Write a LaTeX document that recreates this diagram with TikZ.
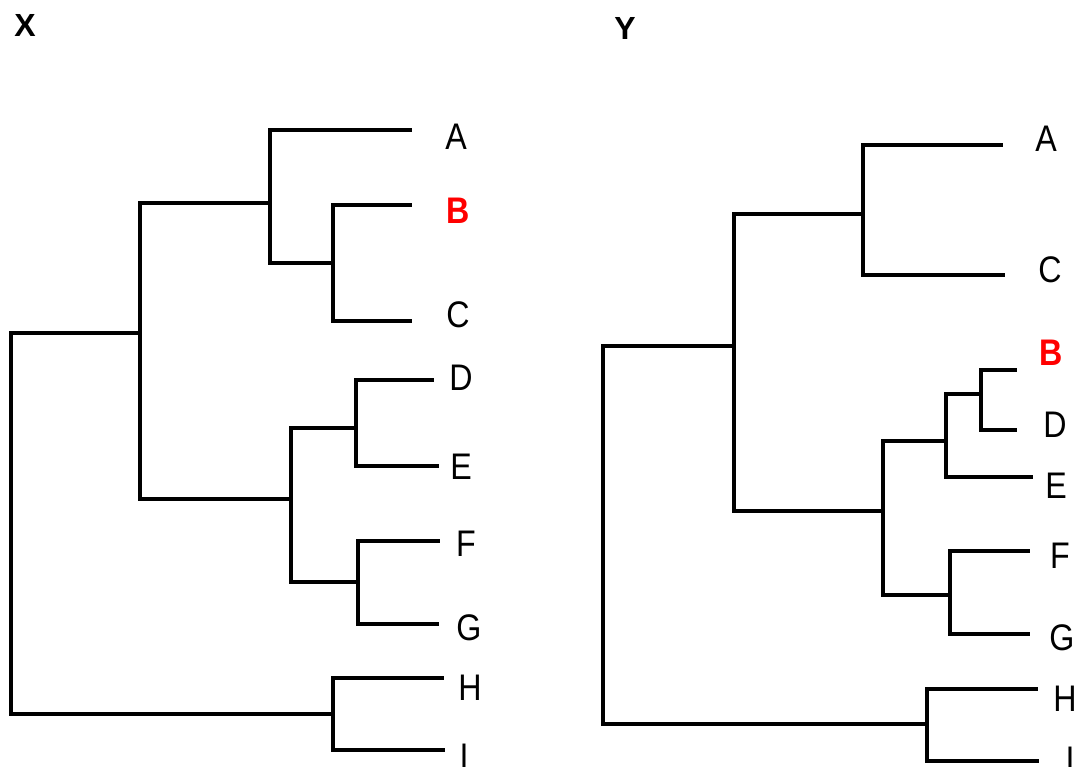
\documentclass[tikz,border=0pt]{standalone}
\usepackage{fontspec}
\setmainfont{Liberation Sans}
\begin{document}
\begin{tikzpicture}[x=1pt,y=-1pt,
  branch/.style={line width=3.2pt,line cap=rect,black},
  leaflabel/.style={inner sep=0pt,font=\fontsize{37}{37}\selectfont},
  hilabel/.style={leaflabel,text=red,font=\fontsize{37}{37}\selectfont\bfseries},
  title/.style={inner sep=0pt,font=\fontsize{32}{32}\selectfont\bfseries}]
\useasboundingbox (0,0) rectangle (1076,767);
\fill[white] (0,0) rectangle (1076,767);

% ---------- Tree X ----------
\node[title] (tX) at (25,25) {X};
% leaf ends
\coordinate (xA) at (410,130);
\coordinate (xB) at (410,205);
\coordinate (xC) at (410,321);
\coordinate (xD) at (432,380);
\coordinate (xE) at (437,466);
\coordinate (xF) at (438,541);
\coordinate (xG) at (437,624);
\coordinate (xH) at (442,678);
\coordinate (xI) at (443,750);
% internal nodes
\coordinate (xBC) at (333,263);
\coordinate (xABC) at (270,203);
\coordinate (xDE) at (356,428);
\coordinate (xFG) at (358,582);
\coordinate (xDEFG) at (291,499);
\coordinate (xAG) at (140,333);
\coordinate (xHI) at (333,714);
\coordinate (xRoot) at (11,333);
\draw[branch] (xB) -| (xBC) |- (xC);
\draw[branch] (xA) -| (xABC) |- (xBC);
\draw[branch] (xD) -| (xDE) |- (xE);
\draw[branch] (xF) -| (xFG) |- (xG);
\draw[branch] (xDE) -| (xDEFG) |- (xFG);
\draw[branch] (xABC) -| (xAG) |- (xDEFG);
\draw[branch] (xH) -| (xHI) |- (xI);
\draw[branch] (xAG) -| (xRoot) |- (xHI);
% labels
\node[leaflabel] (lxA) at (456,137) {\scalebox{0.87}[1]{A}};
\node[hilabel]   (lxB) at (458,211) {\scalebox{0.87}[1]{B}};
\node[leaflabel] (lxC) at (458,315) {\scalebox{0.87}[1]{C}};
\node[leaflabel] (lxD) at (461,378) {\scalebox{0.87}[1]{D}};
\node[leaflabel] (lxE) at (461,467) {\scalebox{0.87}[1]{E}};
\node[leaflabel] (lxF) at (466,544) {\scalebox{0.87}[1]{F}};
\node[leaflabel] (lxG) at (469,628) {\scalebox{0.87}[1]{G}};
\node[leaflabel] (lxH) at (470,688) {\scalebox{0.87}[1]{H}};
\node[leaflabel] (lxI) at (464,757) {\scalebox{0.87}[1]{I}};

% ---------- Tree Y ----------
\node[title] (tY) at (625,28) {Y};
\coordinate (yA) at (1001,145);
\coordinate (yC) at (1003,275);
\coordinate (yB) at (1015,370);
\coordinate (yD) at (1015,430);
\coordinate (yE) at (1031,477);
\coordinate (yF) at (1028,551);
\coordinate (yG) at (1028,634);
\coordinate (yH) at (1036,689);
\coordinate (yI) at (1037,761);
\coordinate (yAC) at (863,214);
\coordinate (yBD) at (981,394);
\coordinate (yBDE) at (946,441);
\coordinate (yFG) at (950,595);
\coordinate (yBG) at (883,511);
\coordinate (yAG) at (734,346);
\coordinate (yHI) at (927,724);
\coordinate (yRoot) at (603,346);
\draw[branch] (yA) -| (yAC) |- (yC);
\draw[branch] (yB) -| (yBD) |- (yD);
\draw[branch] (yBD) -| (yBDE) |- (yE);
\draw[branch] (yF) -| (yFG) |- (yG);
\draw[branch] (yBDE) -| (yBG) |- (yFG);
\draw[branch] (yAC) -| (yAG) |- (yBG);
\draw[branch] (yH) -| (yHI) |- (yI);
\draw[branch] (yAG) -| (yRoot) |- (yHI);
\node[leaflabel] (lyA) at (1046,139) {\scalebox{0.87}[1]{A}};
\node[leaflabel] (lyC) at (1050,270) {\scalebox{0.87}[1]{C}};
\node[hilabel]   (lyB) at (1051,353) {\scalebox{0.87}[1]{B}};
\node[leaflabel] (lyD) at (1055,425) {\scalebox{0.87}[1]{D}};
\node[leaflabel] (lyE) at (1056,486) {\scalebox{0.87}[1]{E}};
\node[leaflabel] (lyF) at (1060,556) {\scalebox{0.87}[1]{F}};
\node[leaflabel] (lyG) at (1062,638) {\scalebox{0.87}[1]{G}};
\node[leaflabel] (lyH) at (1065,699) {\scalebox{0.87}[1]{H}};
\node[leaflabel] (lyI) at (1070,760) {\scalebox{0.87}[1]{I}};
\end{tikzpicture}
\end{document}
